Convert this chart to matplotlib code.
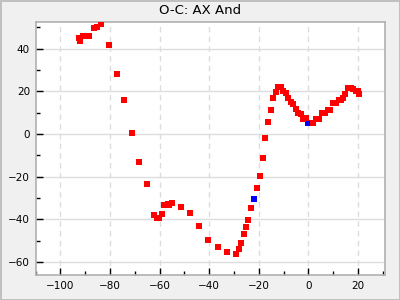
import numpy as np
from matplotlib import pyplot as plt
from matplotlib.ticker import MultipleLocator

# O-C values (epoch, days*1000ish)
red_x = [-92.6, -91.9, -90.7, -89.6, -88.3, -86.3, -85.1, -83.5, -80.2, -77.0,
         -74.2, -71.0, -68.1, -64.9, -62.1, -60.9, -60.1, -58.9, -58.1, -56.7,
         -56.0, -55.0, -51.2, -47.6, -44.0, -40.3, -36.3, -32.7, -29.0, -27.8,
         -27.0, -25.8, -25.0, -24.2, -23.0, -20.6, -19.4, -18.1, -17.3, -16.1,
         -14.9, -14.1, -12.9, -12.1, -10.9, -10.1, -8.9, -8.1, -6.9, -6.0,
         -4.8, -4.0, -2.8, -2.0, -0.8, 2.0, 3.2, 4.4, 5.6, 6.9,
         8.1, 8.9, 10.1, 11.3, 12.5, 13.3, 14.1, 14.9, 16.1, 17.3,
         18.1, 19.4, 20.2, 20.6]
red_y = [44.8, 43.7, 45.8, 46.0, 46.0, 49.5, 50.0, 51.4, 41.5, 28.0,
         15.8, 0.3, -13.3, -23.6, -38.1, -39.5, -39.2, -37.6, -33.4, -32.6,
         -33.4, -32.5, -34.3, -37.1, -43.2, -49.8, -53.1, -55.4, -56.3, -54.0,
         -51.2, -47.0, -43.7, -40.4, -34.8, -25.4, -19.8, -11.2, -2.0, 5.5,
         11.1, 16.7, 19.5, 21.9, 21.9, 20.0, 19.1, 16.7, 14.8, 13.9,
         11.6, 9.7, 9.2, 6.9, 7.4, 5.0, 6.9, 6.9, 9.7, 9.7,
         11.1, 11.1, 14.4, 14.4, 15.8, 15.8, 16.7, 18.6, 21.4, 21.4,
         20.9, 20.0, 20.0, 18.6]
blue_x = [-21.8, -0.3]
blue_y = [-30.6, 5.2]

fig = plt.figure(figsize=(4, 3), dpi=100, facecolor='#f0f0f0',
                 edgecolor='#c0c0c0', linewidth=2)
ax = fig.add_axes([35.5 / 400, 1 - 275 / 300, 349.5 / 400, 253 / 300])
ax.set_facecolor('white')

ax.plot(blue_x, blue_y, 's', color='blue', markersize=5, markeredgewidth=0, zorder=2)
ax.plot(red_x, red_y, 's', color='red', markersize=5, markeredgewidth=0, zorder=3)

ax.set_xlim(-110, 30.9)
ax.set_ylim(-66, 52.5)
ax.xaxis.set_major_locator(MultipleLocator(20))
ax.xaxis.set_minor_locator(MultipleLocator(10))
ax.yaxis.set_major_locator(MultipleLocator(20))
ax.yaxis.set_minor_locator(MultipleLocator(10))

ax.grid(True, axis='x', which='major', color='#dddddd', linestyle=(0, (4, 3)), linewidth=1)
ax.grid(True, axis='y', which='major', color='#dddddd', linestyle='-', linewidth=1)
ax.set_axisbelow(True)

ax.tick_params(which='major', direction='in', length=5, width=1, color='black',
               labelsize=7.5, pad=4)
ax.tick_params(which='minor', direction='in', length=3, width=1, color='black')
for s in ax.spines.values():
    s.set_color('#b0b0b0')
    s.set_linewidth(1.2)

fig.text(0.5, 1 - 11 / 300, 'O-C: AX And', ha='center', va='center', fontsize=9.5)

fig.savefig('out.png', dpi=100, facecolor=fig.get_facecolor(), edgecolor=fig.get_edgecolor())
